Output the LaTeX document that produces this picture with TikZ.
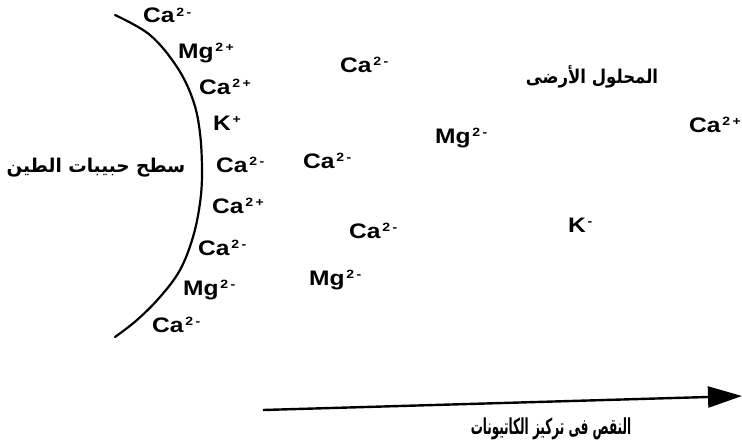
\documentclass[tikz,border=0pt]{standalone}
\usepackage{fontspec}
\setmainfont{Liberation Sans}
\newfontfamily\arabicfont[Script=Arabic]{DejaVu Sans}
\TeXXeTstate=1
\usetikzlibrary{arrows.meta}
\tikzset{
  ion/.style={anchor=base west, inner sep=0pt, font=\fontsize{21}{23}\selectfont\bfseries},
  arab/.style={inner sep=0pt, font=\arabicfont\fontsize{19}{22}\selectfont\bfseries},
}
\newcommand{\ionsup}[1]{\kern1.5pt\raisebox{0.62ex}{\fontsize{12}{13}\selectfont #1}}
\newcommand{\ionl}[2]{\scalebox{1.17}[1]{#1\ionsup{#2}}}
\begin{document}
\begin{tikzpicture}[x=1pt,y=-1pt]
\useasboundingbox (0,0) rectangle (742,447);
% clay surface curve
\draw[line width=2.2pt, line cap=round] plot[smooth, tension=0.6] coordinates {
 (115,15) (150,35) (177,67) (193,100) (200,133) (202,172) (200,203) (193,237) (180,270) (160,297) (137,320) (115,337)};
% ions near surface
\node[ion] (l1) at (143,23) {\ionl{Ca}{2\,-}};
\node[ion] (l2) at (178,58) {\ionl{Mg}{2\,+}};
\node[ion] (l3) at (199,94) {\ionl{Ca}{2\,+}};
\node[ion] (l4) at (213,130) {\ionl{K}{+}};
\node[ion] (l5) at (216,172) {\ionl{Ca}{2\,-}};
\node[ion] (l6) at (212,213) {\ionl{Ca}{2\,+}};
\node[ion] (l7) at (198,255) {\ionl{Ca}{2\,-}};
\node[ion] (l8) at (183,295) {\ionl{Mg}{2\,-}};
\node[ion] (l9) at (152,332) {\ionl{Ca}{2\,-}};
% ions in solution
\node[ion] (s1) at (340,72) {\ionl{Ca}{2\,-}};
\node[ion] (s2) at (435,143) {\ionl{Mg}{2\,-}};
\node[ion] (s3) at (689,132) {\ionl{Ca}{2\,+}};
\node[ion] (s4) at (303,168) {\ionl{Ca}{2\,-}};
\node[ion] (s5) at (349,238) {\ionl{Ca}{2\,-}};
\node[ion] (s6) at (568,232) {\ionl{K}{-}};
\node[ion] (s7) at (309,285) {\ionl{Mg}{2\,-}};
% Arabic labels
\node[arab] (clay) at (96,168) {\scalebox{0.97}[1]{\beginR سطح حبيبات الطين\endR}};
\node[arab] (soil) at (592,77) {\scalebox{0.87}[1]{\beginR المحلول الأرضى\endR}};
\node[arab] (decr) at (551,429) {\scalebox{0.6}[1.1]{\fontsize{20}{22}\selectfont\beginR النقص فى تركيز الكاتيونات\endR}};
% arrow
\coordinate (a0) at (263,410);
\coordinate (a1) at (742,396);
\draw[line width=2.4pt, -{Triangle[length=34pt,width=21pt]}] (a0) -- (a1);
\end{tikzpicture}
\end{document}
